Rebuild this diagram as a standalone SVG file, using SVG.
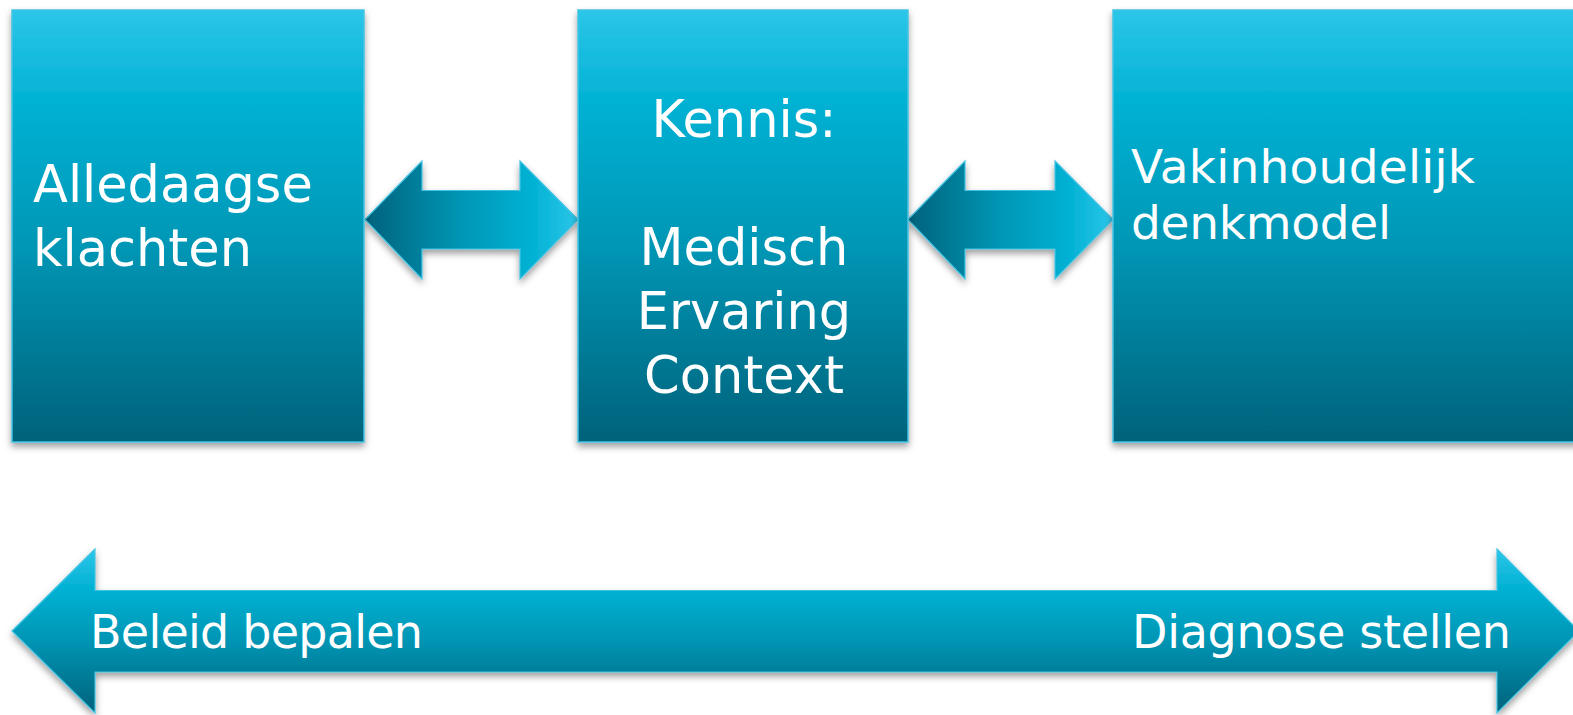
<svg xmlns="http://www.w3.org/2000/svg" width="1573" height="715" viewBox="0 0 1573 715">
  <defs>
    <linearGradient id="gradBox" x1="0" y1="0" x2="0" y2="1">
      <stop offset="0" stop-color="#2cc6e9"/>
      <stop offset="0.22" stop-color="#00b1d3"/>
      <stop offset="0.55" stop-color="#0096b5"/>
      <stop offset="1" stop-color="#00627b"/>
    </linearGradient>
    <linearGradient id="gradHoriz" x1="0" y1="0" x2="1" y2="0">
      <stop offset="0" stop-color="#00627b"/>
      <stop offset="0.45" stop-color="#0096b5"/>
      <stop offset="0.78" stop-color="#00b1d3"/>
      <stop offset="1" stop-color="#2cc6e9"/>
    </linearGradient>
    <linearGradient id="gradBar" x1="0" y1="549" x2="0" y2="713" gradientUnits="userSpaceOnUse">
      <stop offset="0" stop-color="#2cc6e9"/>
      <stop offset="0.25" stop-color="#00b1d3"/>
      <stop offset="0.55" stop-color="#0096b5"/>
      <stop offset="1" stop-color="#00627b"/>
    </linearGradient>
    <filter id="shadow" x="-10%" y="-10%" width="120%" height="130%">
      <feDropShadow dx="0" dy="4" stdDeviation="3.5" flood-color="#000" flood-opacity="0.38"/>
    </filter>
  </defs>
  <style>
    .box { fill: url(#gradBox); stroke: #43c3e3; stroke-width: 1.5; filter: url(#shadow); }
    .dbl { fill: url(#gradHoriz); stroke: #43c3e3; stroke-width: 1.2; filter: url(#shadow); }
    .bar { fill: url(#gradBar); stroke: #43c3e3; stroke-width: 1.2; filter: url(#shadow); }
    .lbl { font-family: "DejaVu Sans", "Liberation Sans", sans-serif; fill: #ffffff; }
  </style>

  <rect width="1573" height="715" fill="#ffffff"/>

  <!-- connectors between the blocks -->
  <g id="connectors">
    <path class="dbl" d="M365,219.5 L422,161 L422,190.5 L520,190.5 L520,161 L578,219.5 L520,279 L520,249 L422,249 L422,279 Z"/>
    <path class="dbl" d="M908,219.5 L965,161 L965,190.5 L1055,190.5 L1055,161 L1113,219.5 L1055,279 L1055,249 L965,249 L965,279 Z"/>
  </g>

  <g id="node-klachten">
    <rect class="box" x="12" y="10" width="352" height="432"/>
    <text class="lbl" font-size="51" x="33" y="202">Alledaagse</text>
    <text class="lbl" font-size="51" x="33" y="266">klachten</text>
  </g>

  <g id="node-kennis">
    <rect class="box" x="578" y="10" width="330" height="432"/>
    <g text-anchor="middle">
      <text class="lbl" font-size="51" x="744" y="137">Kennis:</text>
      <text class="lbl" font-size="51" x="744" y="265">Medisch</text>
      <text class="lbl" font-size="51" x="744" y="329">Ervaring</text>
      <text class="lbl" font-size="51" x="744" y="393">Context</text>
    </g>
  </g>

  <g id="node-denkmodel">
    <rect class="box" x="1113" y="10" width="470" height="432"/>
    <text class="lbl" font-size="47" x="1131" y="183" textLength="344">Vakinhoudelijk</text>
    <text class="lbl" font-size="47" x="1131" y="239" textLength="260">denkmodel</text>
  </g>

  <!-- spectrum bar at the bottom -->
  <g id="node-spectrum">
    <path class="bar" d="M12,631 L95,549 L95,590.5 L1497,590.5 L1497,549 L1579,631 L1497,713 L1497,672 L95,672 L95,713 Z"/>
    <text class="lbl" font-size="46" x="90" y="648" textLength="333">Beleid bepalen</text>
    <text class="lbl" font-size="46" x="1132" y="648" textLength="379">Diagnose stellen</text>
  </g>
</svg>
